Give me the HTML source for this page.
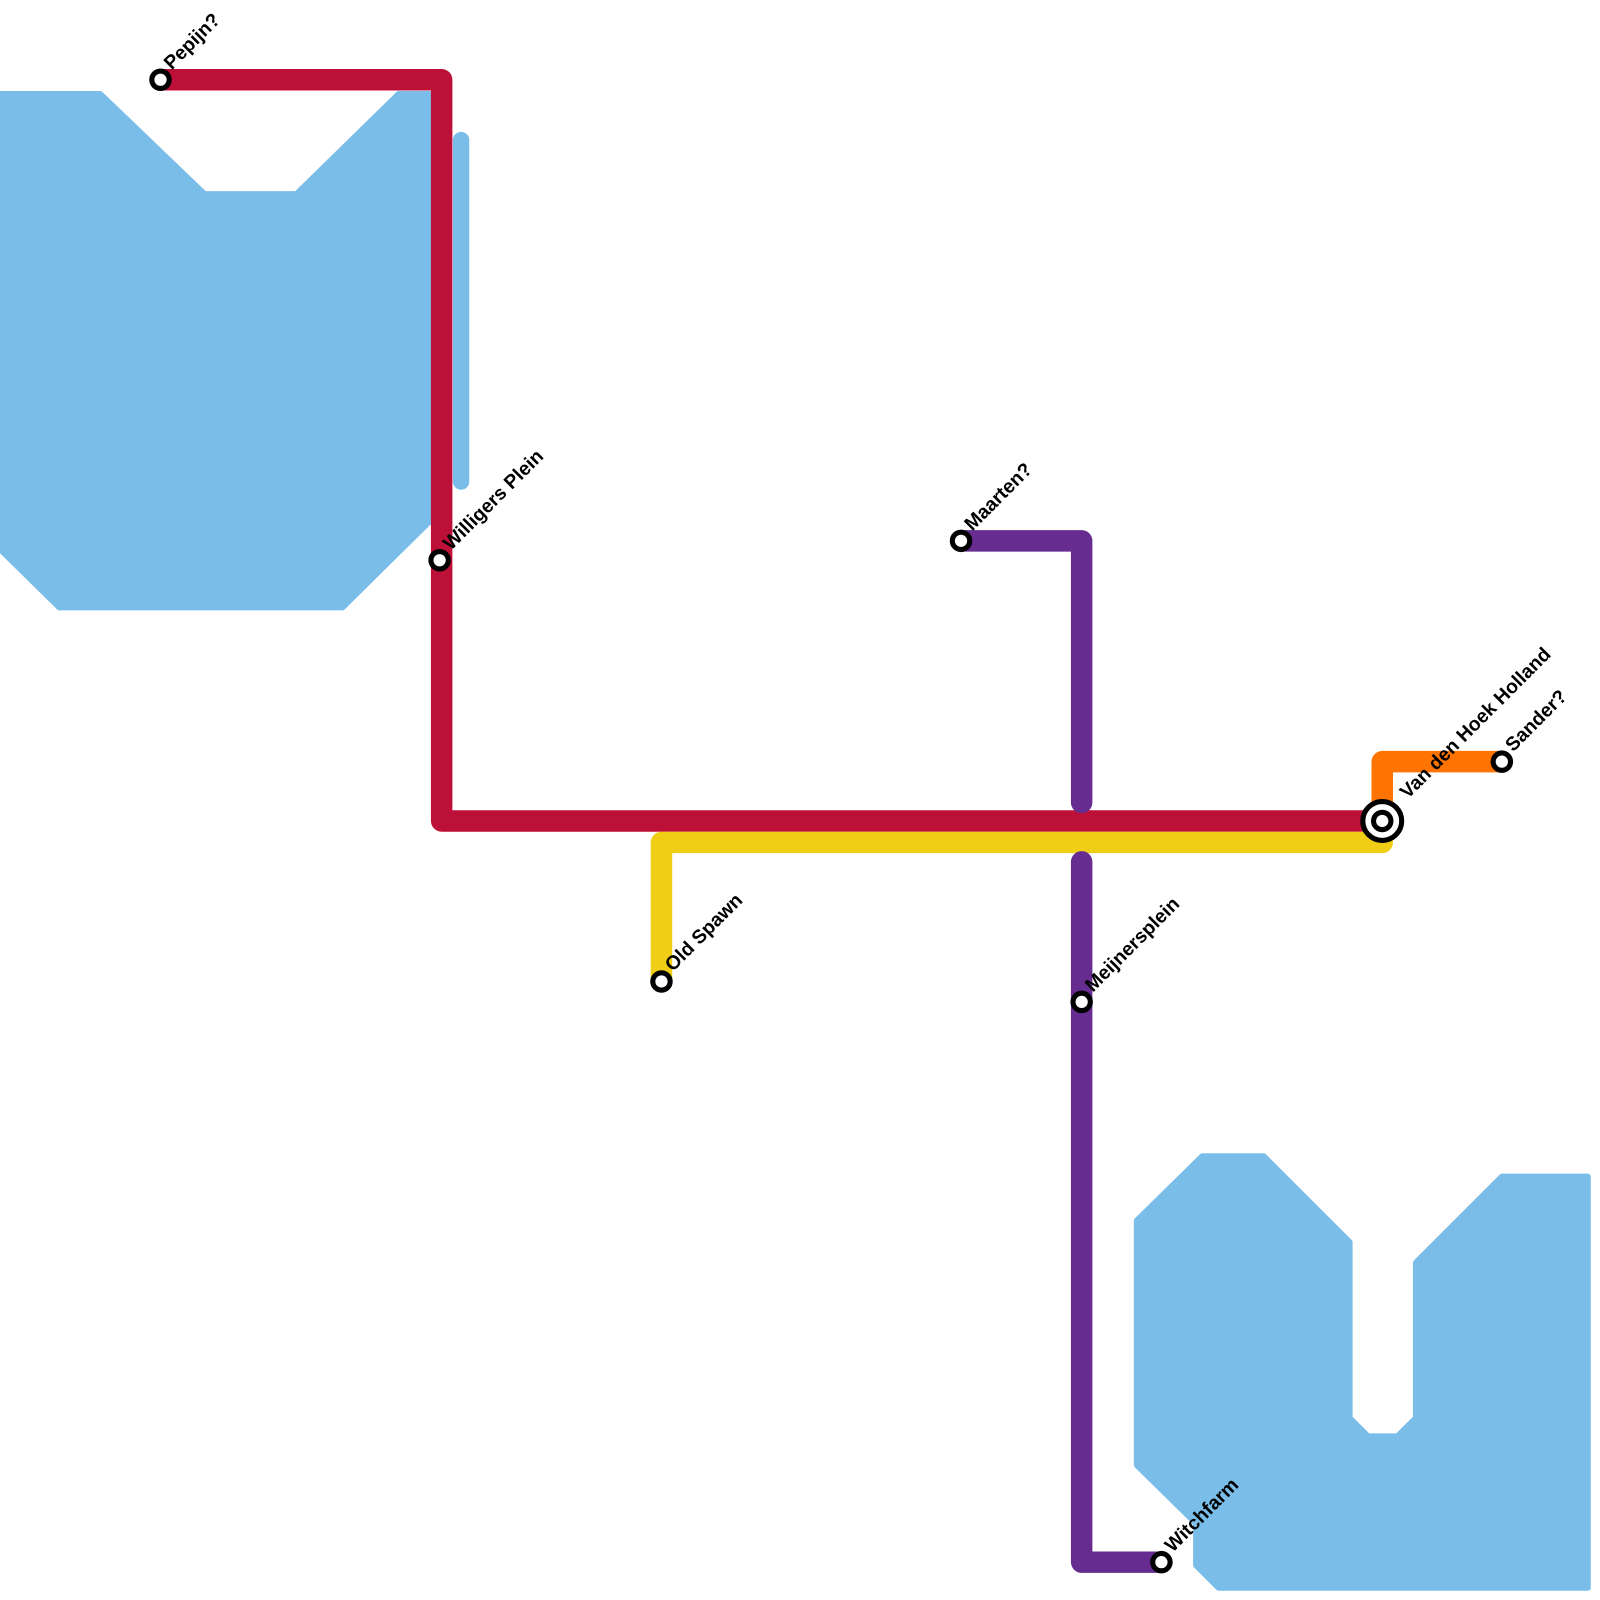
<!DOCTYPE html>
<html><head><meta charset="utf-8"><style>html,body{margin:0;padding:0;background:#fff}svg{display:block}</style></head>
<body>
<svg width="1600" height="1600" viewBox="0 0 1565 1565" xmlns="http://www.w3.org/2000/svg">
<g fill="#79bde8" stroke="#79bde8" stroke-width="6" stroke-linejoin="round">
<polygon points="0,92 98,92 200,190 290,190 390,92 420,92 420,510 335,594 58,594 0,537"/>
<polygon points="1112,1194 1176,1131 1236,1131 1320,1215 1320,1387 1338,1405 1367,1405 1385,1387 1385,1235 1469,1151 1553,1151 1553,1553 1192,1553 1170,1531 1170,1490 1112,1433"/>
</g>
<line x1="451" y1="137" x2="451" y2="471" stroke="#79bde8" stroke-width="16" stroke-linecap="round"/>
<g fill="none" stroke-width="21" stroke-linejoin="round" stroke-linecap="round">
<polyline stroke="#bd1038" points="157,78 432,78 432,803 1352,803"/>
<polyline stroke="#f0ce15" points="1352,824 647,824 647,960"/>
<polyline stroke="#662c90" points="940,529 1058,529 1058,785"/>
<polyline stroke="#662c90" points="1058,843 1058,1528 1136,1528"/>
<polyline stroke="#ff7300" points="1352,803 1352,745 1469,745"/>
</g>
<g fill="#fff" stroke="#000" stroke-width="5">
<circle cx="157" cy="78" r="8.5"/>
<circle cx="430" cy="548" r="8.5"/>
<circle cx="940" cy="529" r="8.5"/>
<circle cx="647" cy="960" r="8.5"/>
<circle cx="1058" cy="980" r="8.5"/>
<circle cx="1136" cy="1528" r="8.5"/>
<circle cx="1469" cy="745" r="8.5"/>
<circle cx="1352" cy="803" r="19"/>
<circle cx="1352" cy="803" r="8.5"/>
</g>
<g font-family="Liberation Sans, sans-serif" font-size="19" font-weight="bold" fill="#000">
<text transform="translate(168,69) rotate(-45)">Pepijn?</text>
<text transform="translate(441,539) rotate(-45)">Willigers Plein</text>
<text transform="translate(951,520) rotate(-45)">Maarten?</text>
<text transform="translate(658,951) rotate(-45)">Old Spawn</text>
<text transform="translate(1069,971) rotate(-45)">Meijnersplein</text>
<text transform="translate(1147,1519) rotate(-45)">Witchfarm</text>
<text transform="translate(1480,736) rotate(-45)">Sander?</text>
<text transform="translate(1377,782) rotate(-45)">Van den Hoek Holland</text>
</g>
</svg>
</body></html>
